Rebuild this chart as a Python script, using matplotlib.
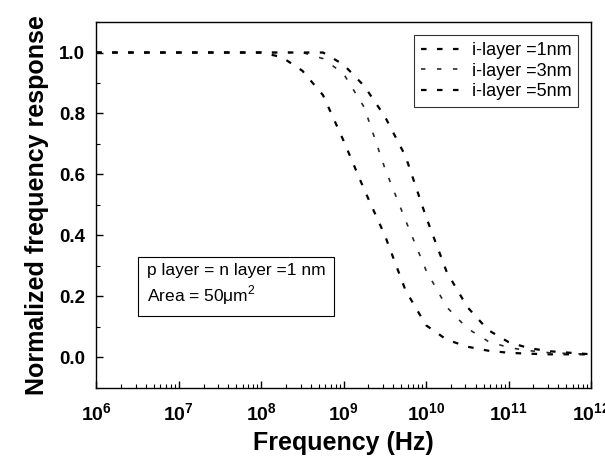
import numpy as np
import matplotlib
matplotlib.use('Agg')
import matplotlib.pyplot as plt
from matplotlib.ticker import LogLocator, MultipleLocator, FixedLocator, FixedFormatter, NullFormatter

plt.rcParams['font.family'] = ['Liberation Sans', 'DejaVu Sans']
plt.rcParams['mathtext.fontset'] = 'custom'
plt.rcParams['mathtext.rm'] = 'Liberation Sans'
plt.rcParams['mathtext.bf'] = 'Liberation Sans:bold'
plt.rcParams['lines.scale_dashes'] = False

# log10 of frequency (Hz)
log_f = [6.0, 6.5, 7.0, 7.5, 8.0, 8.25, 8.5, 8.75, 9.0, 9.25, 9.5, 9.75,
         10.0, 10.25, 10.5, 10.75, 11.0, 11.25, 11.5, 12.0]
resp_1nm = [1.0, 1.0, 1.0, 1.0, 1.0, 0.985, 0.94, 0.86, 0.71, 0.55, 0.40, 0.22,
            0.105, 0.058, 0.035, 0.022, 0.015, 0.012, 0.01, 0.01]
resp_3nm = [1.0, 1.0, 1.0, 1.0, 1.0, 1.0, 1.0, 0.98, 0.93, 0.82, 0.62, 0.45,
            0.285, 0.165, 0.095, 0.053, 0.032, 0.022, 0.015, 0.01]
resp_5nm = [1.0, 1.0, 1.0, 1.0, 1.0, 1.0, 1.0, 1.0, 0.96, 0.89, 0.79, 0.66,
            0.46, 0.28, 0.165, 0.09, 0.05, 0.03, 0.02, 0.01]
labels = ['i-layer =1nm', 'i-layer =3nm', 'i-layer =5nm']

freq = 10 ** np.array(log_f)

fig = plt.figure(figsize=(6.05, 4.59), dpi=100)
ax = fig.add_axes([0.159, 0.155, 0.818, 0.797])

ax.plot(freq, resp_1nm, color='black', lw=1.6, dashes=(4.0, 7.5), label=labels[0])
ax.plot(freq, resp_3nm, color='#2a2a2a', lw=1.2, dashes=(3.2, 8.3), label=labels[1])
ax.plot(freq, resp_5nm, color='black', lw=1.6, dashes=(4.0, 7.5), label=labels[2])

ax.set_xscale('log')
ax.set_xlim(1e6, 1e12)
ax.set_ylim(-0.1, 1.1)

decades = [6, 7, 8, 9, 10, 11, 12]
ax.xaxis.set_major_locator(FixedLocator([10.0 ** d for d in decades]))
ax.xaxis.set_major_formatter(FixedFormatter([r'$\mathbf{10^{%d}}$' % d for d in decades]))
ax.xaxis.set_minor_locator(LogLocator(base=10, subs=np.arange(2, 10), numticks=20))
ax.xaxis.set_minor_formatter(NullFormatter())
ax.yaxis.set_major_locator(MultipleLocator(0.2))
ax.yaxis.set_minor_locator(MultipleLocator(0.1))

ax.tick_params(which='both', direction='in', top=False, right=False)
ax.tick_params(which='major', length=5, width=1)
ax.tick_params(which='minor', length=3, width=0.8)
ax.tick_params(axis='x', which='major', labelsize=14, pad=10)
ax.tick_params(axis='y', which='major', labelsize=13.5, pad=8)
for t in ax.get_yticklabels():
    t.set_fontweight('bold')
for s in ax.spines.values():
    s.set_linewidth(1.0)

ax.set_xlabel('Frequency (Hz)', fontsize=18, fontweight='bold', labelpad=5)
ax.set_ylabel('Normalized frequency response', fontsize=18, fontweight='bold', labelpad=7)

leg = ax.legend(loc='upper right', fontsize=13, frameon=True, fancybox=False,
                edgecolor='black', handlelength=2.6, handletextpad=0.2,
                labelspacing=0.2, borderaxespad=0.7, borderpad=0.4)
leg.get_frame().set_linewidth(0.8)

ax.text(0.103, 0.22, 'p layer = n layer =1 nm\nArea = 50\u03bcm$^{\\mathrm{2}}$',
        transform=ax.transAxes, fontsize=12.5, ha='left', va='bottom', linespacing=1.3,
        bbox=dict(boxstyle='square,pad=0.5', facecolor='white', edgecolor='black', linewidth=0.8))

fig.savefig('out.png', dpi=100)
